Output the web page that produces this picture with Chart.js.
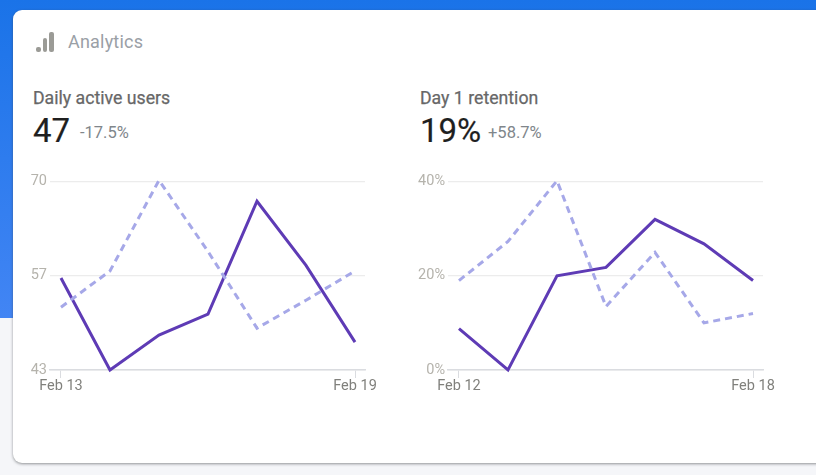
<!DOCTYPE html>
<html>
<head>
<meta charset="utf-8">
<title>Analytics</title>
<script src="https://cdn.jsdelivr.net/npm/chart.js@4"></script>
<style>
  html, body { margin: 0; padding: 0; }
  body { width: 816px; height: 475px; overflow: hidden; position: relative; background: #f5f6f9; font-family: Roboto, sans-serif; }
  #hero { position: absolute; left: 0; top: 0; width: 816px; height: 318px; background: linear-gradient(#1a73e8, #4285f4); }
  #card { position: absolute; left: 13px; top: 10px; width: 840px; height: 453px; background: #fff; border-radius: 9px; box-shadow: 0 1px 3px rgba(60,64,67,.55); }
  .abs { position: absolute; white-space: nowrap; }
  .bar { position: absolute; background: #9b9b96; border-radius: 2px; }
  #brand { left: 68px; top: 31px; font-size: 18px; color: #9aa0a6; letter-spacing: .2px; }
  .title { top: 88px; font-size: 17.7px; font-weight: 400; color: #676767; -webkit-text-stroke: .25px #676767; }
  .big { top: 111px; font-size: 33px; color: #1f1f1f; -webkit-text-stroke: .2px #1f1f1f; }
  .delta { top: 123px; font-size: 16.5px; color: #80868b; }
  canvas { position: absolute; }
  .wrap { position: absolute; top: 170px; width: 375px; height: 230px; }
</style>
</head>
<body>
<div id="hero"></div>
<div id="card"></div>

<div class="bar" style="left:36px;top:47px;width:5px;height:5px"></div>
<div class="bar" style="left:42.5px;top:38px;width:4.5px;height:14px"></div>
<div class="bar" style="left:49px;top:32px;width:5px;height:20px"></div>
<div id="brand" class="abs">Analytics</div>

<div class="abs title" style="left:33px">Daily active users</div>
<div class="abs big" style="left:33px">47</div>
<div class="abs delta" style="left:80px">-17.5%</div>

<div class="abs title" style="left:420px">Day 1 retention</div>
<div class="abs big" style="left:420px">19%</div>
<div class="abs delta" style="left:488px">+58.7%</div>

<div class="wrap" style="left:20px"><canvas id="users-chart"></canvas></div>
<div class="wrap" style="left:418px"><canvas id="retention-chart"></canvas></div>

<script>
'use strict';

// *********** DATA ****************
let usersDays = ['Feb 13','Feb 14','Feb 15','Feb 16','Feb 17','Feb 18','Feb 19'];
let usersCurrent = [56.2,43,48,51,67.2,58,47];
let usersPrevious = [52,57.2,70.2,60,49,53,57.2];
let usersTicks = [43,56.5,70];

let retentionDays = ['Feb 12','Feb 13','Feb 14','Feb 15','Feb 16','Feb 17','Feb 18'];
let retentionCurrent = [8.8,0,20,21.8,32,26.8,19];
let retentionPrevious = [19,27.3,40.2,13.5,25,10,12];
let retentionTicks = [0,20,40];

function toPoints(values){
  return values.map((v,i) => ({x:i,y:v}));
}

function renderChart(id,days,current,previous,yTicks,suffix){
  let ctx = document.getElementById(id).getContext('2d');
  new Chart(ctx,{
    type: 'line',
    data: {
      datasets: [{
        data: toPoints(previous),
        borderColor: '#a6a8e8',
        borderWidth: 3,
        borderDash: [7,5],
        borderCapStyle: 'butt',
        pointRadius: 0,
        tension: 0,
        clip: false
      },{
        data: toPoints(current),
        borderColor: '#5e3bb5',
        borderWidth: 3,
        pointRadius: 0,
        tension: 0,
        clip: false
      }]
    },
    options: {
      responsive: true,
      maintainAspectRatio: false,
      animation: false,
      layout: { padding: { top: 9, right: 30, left: 0, bottom: 0 } },
      plugins: { legend: { display: false }, tooltip: { enabled: false } },
      scales: {
        x: {
          type: 'linear',
          min: -0.224,
          max: 6.204,
          afterBuildTicks: function(axis){ axis.ticks = [{value:0},{value:days.length-1}]; },
          afterFit: function(axis){ axis.height = 30; },
          border: { color: '#dadce0', width: 1.5 },
          grid: { drawOnChartArea: false, tickLength: 8, tickColor: '#dadce0' },
          ticks: {
            autoSkip: false,
            maxRotation: 0,
            padding: 0,
            color: '#80807c',
            font: { family: 'Roboto', size: 14.5 },
            callback: function(value){ return days[value]; }
          }
        },
        y: {
          min: yTicks[0],
          max: yTicks[yTicks.length-1],
          afterBuildTicks: function(axis){ axis.ticks = yTicks.map(v => ({value:v})); },
          afterFit: function(axis){ axis.width = 30; },
          border: { display: false },
          grid: { color: '#ececec', lineWidth: 1.2, drawTicks: false },
          ticks: {
            padding: 3,
            color: '#b5b3ac',
            font: { family: 'Roboto', size: 14.5 },
            callback: function(value){ return Math.round(value) + suffix; }
          }
        }
      }
    }
  });
}

renderChart('users-chart',usersDays,usersCurrent,usersPrevious,usersTicks,'');
renderChart('retention-chart',retentionDays,retentionCurrent,retentionPrevious,retentionTicks,'%');
</script>
</body>
</html>
